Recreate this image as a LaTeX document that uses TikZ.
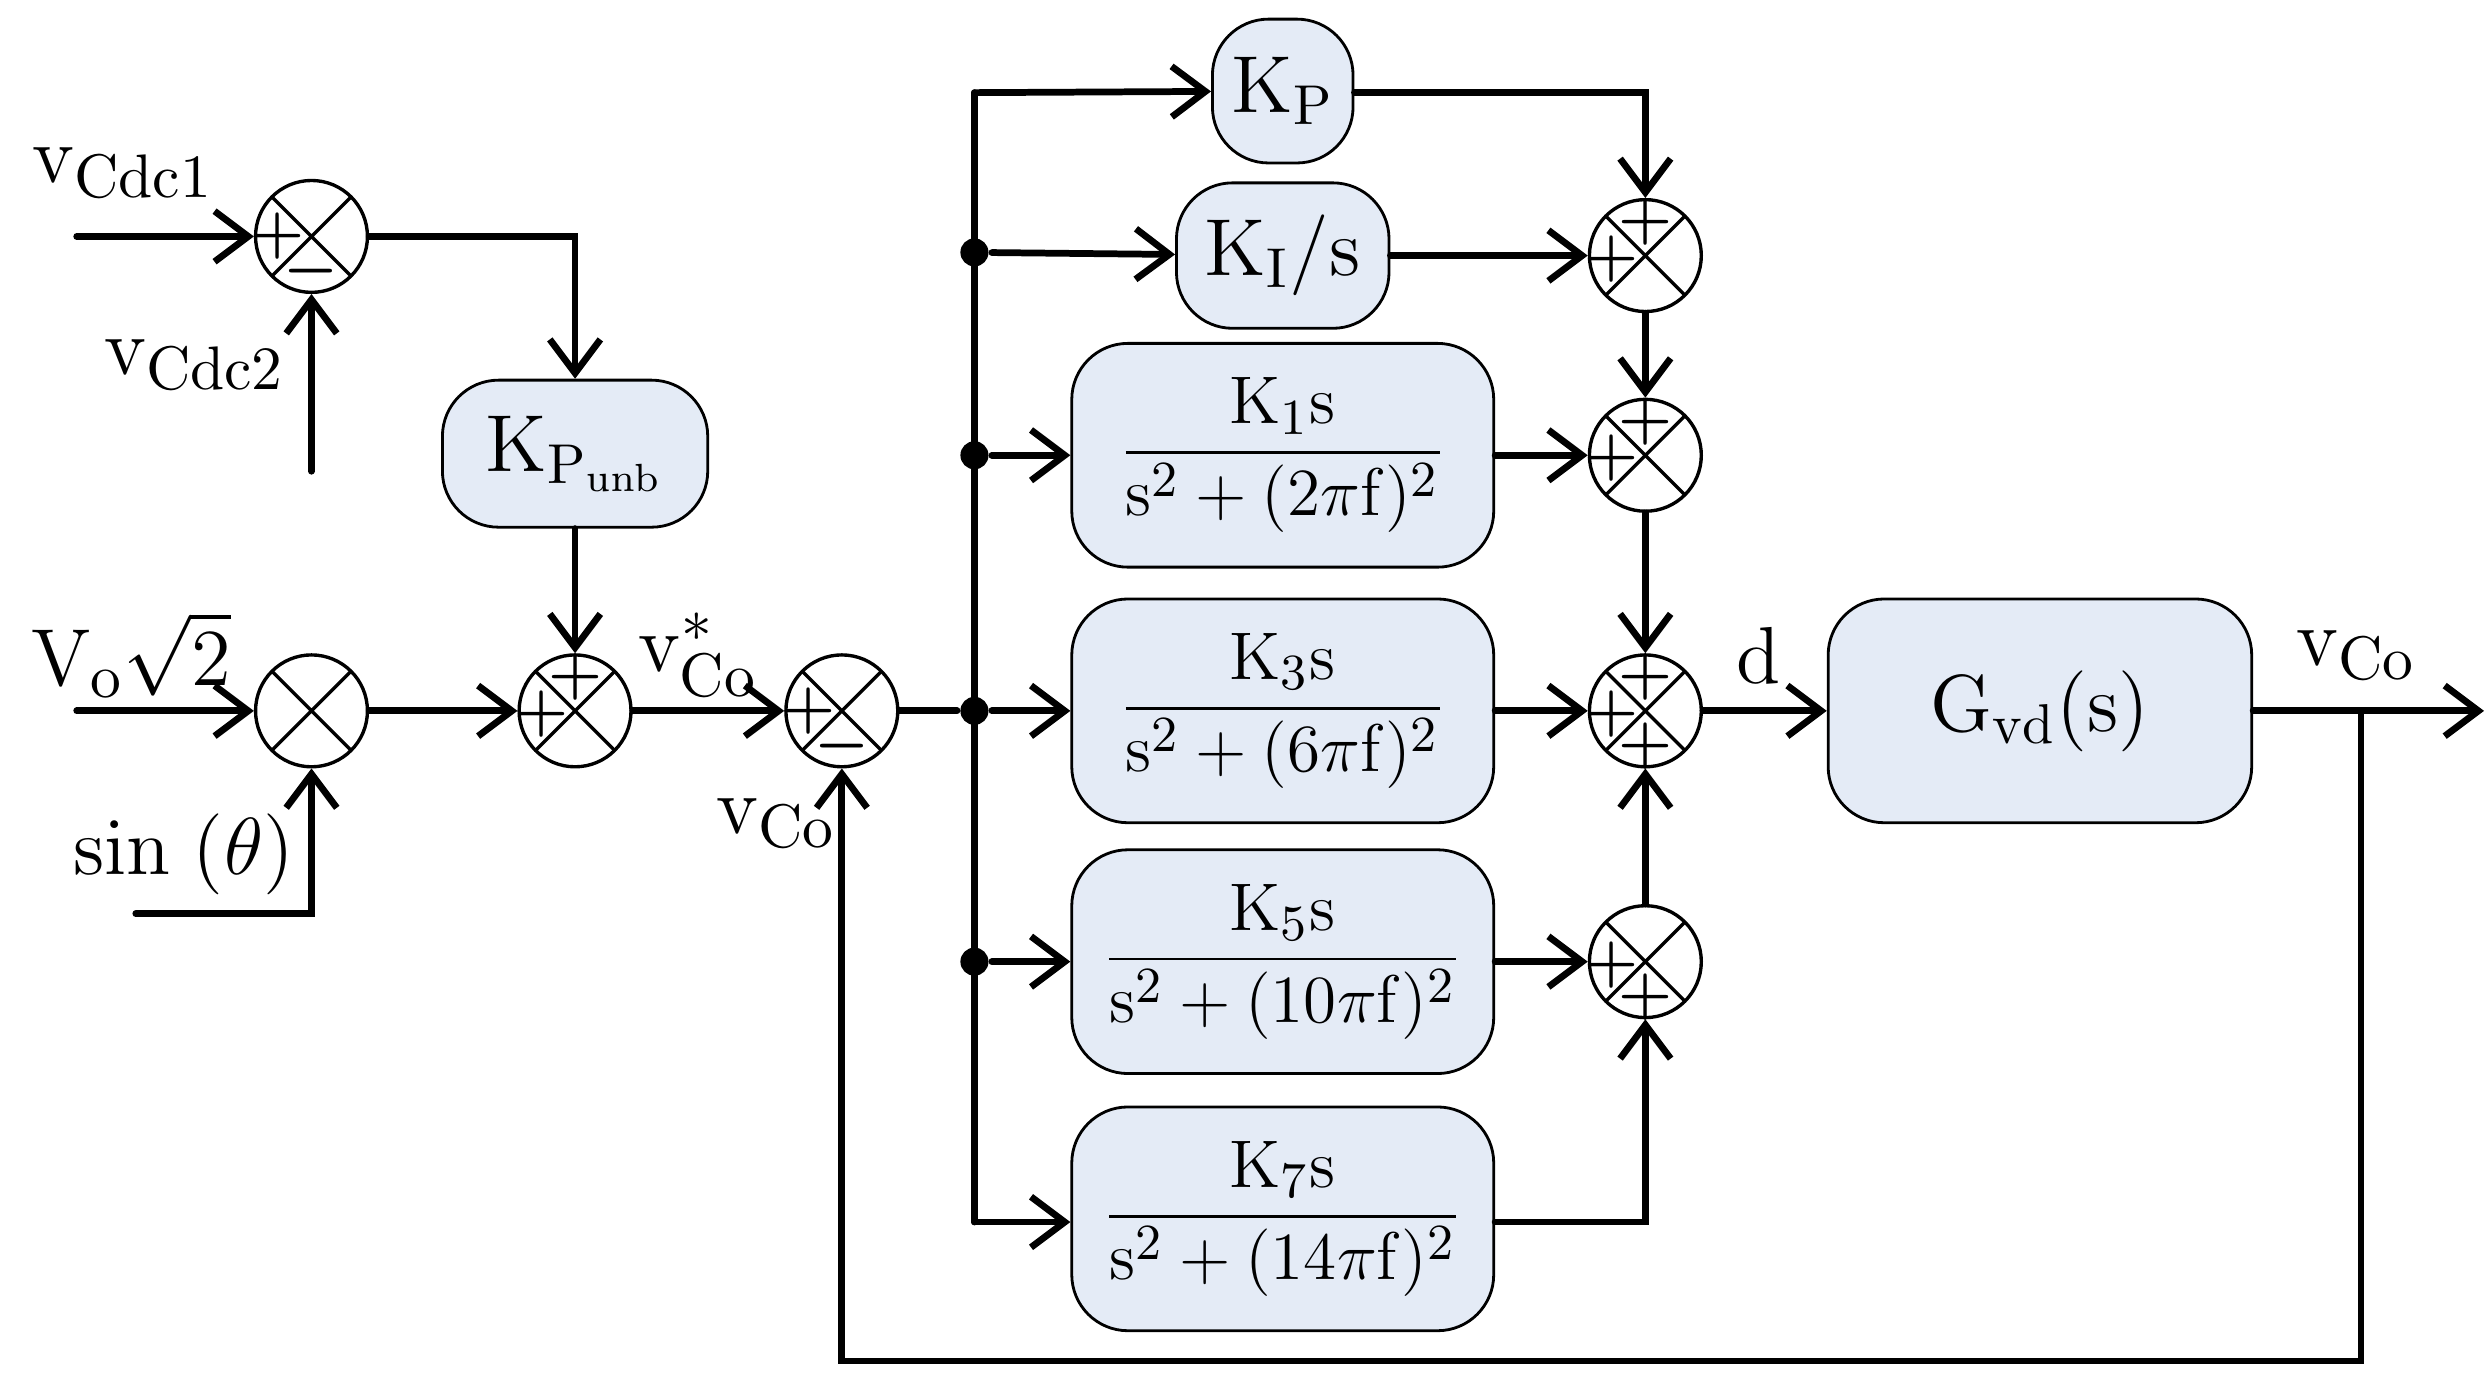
\documentclass[tikz,border=0pt]{standalone}
\usepackage{amsmath}
\usepackage{tikz}
\usetikzlibrary{arrows.meta,calc}
\definecolor{boxfill}{HTML}{E4EBF6}

\begin{document}
\begin{tikzpicture}[x=0.01cm,y=-0.01cm,every path/.style={line cap=round, line width=1.2pt},
  >={Straight Barb[length=6pt,width=9pt]}]

        \tikzset{block/.style = {draw,fill=boxfill,rounded corners=10pt,line width=0.5pt,inner sep=1pt,font=\fontsize{14}{16}\selectfont}}
        \tikzset{frac/.style = {block,minimum width=2.64cm,minimum height=1.4cm,font=\fontsize{12.5}{14}\selectfont}}
        \tikzset{sum/.style = {shape=circle,draw,fill=white,line width=0.6pt,minimum size=0.7cm,inner sep=0pt,
            path picture={\draw[line width=0.6pt] (path picture bounding box.north west) -- (path picture bounding box.south east)
                (path picture bounding box.north east) -- (path picture bounding box.south west);}}}
        \tikzset{sgn/.style = {font=\fontsize{11}{11}\selectfont\bfseries,inner sep=0pt}}
        \tikzset{lbl/.style = {font=\fontsize{15}{18}\selectfont,inner sep=0pt}}
        \tikzset{dot/.style = {circle,fill,inner sep=0pt,minimum size=5pt}}

        \useasboundingbox (0,0) rectangle (1560,867);

        % summing junctions
        \node[sum] (s1) at (195,148) {};
        \node[sum] (s2) at (195,445) {};
        \node[sum] (s3) at (360,445) {};
        \node[sum] (s4) at (527,445) {};
        \node[sum] (r1) at (1030,160) {};
        \node[sum] (r2) at (1030,285) {};
        \node[sum] (r3) at (1030,445) {};
        \node[sum] (r4) at (1030,602) {};

        % blocks
        \node[block,minimum width=0.88cm,minimum height=0.9cm] (kp) at (803,57) {$\mathrm{K_P}$};
        \node[block,minimum width=1.33cm,minimum height=0.91cm] (ki) at (803,160) {$\mathrm{K_I/s}$};
        \node[frac] (k1) at (803,285) {$\dfrac{\mathrm{K_1 s}}{\mathrm{s^2+(2\pi f)^2}}$};
        \node[frac] (k3) at (803,445) {$\dfrac{\mathrm{K_3 s}}{\mathrm{s^2+(6\pi f)^2}}$};
        \node[frac] (k5) at (803,602) {$\dfrac{\mathrm{K_5 s}}{\mathrm{s^2+(10\pi f)^2}}$};
        \node[frac] (k7) at (803,763) {$\dfrac{\mathrm{K_7 s}}{\mathrm{s^2+(14\pi f)^2}}$};
        \node[block,minimum width=1.66cm,minimum height=0.92cm] (kpu) at (360,284) {$\mathrm{K_{P_{unb}}}$};
        \node[block,minimum width=2.65cm,minimum height=1.4cm] (gvd) at (1277,445) {$\mathrm{G_{vd}(s)}$};

        % branch points
        \coordinate (in1) at (48,148);
        \coordinate (in2) at (195,295);
        \coordinate (in3) at (48,445);
        \coordinate (in4) at (85,572);
        \coordinate (bt) at (610,58);
        \coordinate (bb) at (610,765);
        \coordinate (out) at (1555,445);
        \node[dot] (b1) at (610,158) {};
        \node[dot] (b2) at (610,285) {};
        \node[dot] (b3) at (610,445) {};
        \node[dot] (b4) at (610,602) {};
        \coordinate (fb) at (1478,445);

        % signs
        \node[sgn] at ($(s1)+(-21,0)$) {+};
        \node[sgn] at ($(s1)+(0,22)$) {$\boldsymbol{-}$};
        \node[sgn] at ($(s3)+(-21,2)$) {+};
        \node[sgn] at ($(s3)+(0,-21)$) {+};
        \node[sgn] at ($(s4)+(-21,0)$) {+};
        \node[sgn] at ($(s4)+(0,22)$) {$\boldsymbol{-}$};
        \foreach \s in {r1,r2,r3} {
          \node[sgn] at ($(\s)+(-21,2)$) {+};
          \node[sgn] at ($(\s)+(0,-21)$) {+};
        }
        \node[sgn] at ($(r3)+(0,22)$) {+};
        \node[sgn] at ($(r4)+(-21,2)$) {+};
        \node[sgn] at ($(r4)+(0,22)$) {+};

        % labels
        \node[lbl] at (77,108) {$\mathrm{v_{Cdc1}}$};
        \node[lbl] at (122,228) {$\mathrm{v_{Cdc2}}$};
        \node[lbl] at (82,410) {$\mathrm{V_o\sqrt{2}}$};
        \node[lbl] at (115,535) {$\mathrm{sin\;(\theta)}$};
        \node[lbl] at (437,410) {$\mathrm{v^*_{Co}}$};
        \node[lbl] at (486,515) {$\mathrm{v_{Co}}$};
        \node[lbl] at (1101,410) {$\mathrm{d}$};
        \node[lbl] at (1475,410) {$\mathrm{v_{Co}}$};

        % connections
        \draw[->] (in1) -- (s1);
        \draw[->] (in2) -- (s1);
        \draw[->] (s1) -| (kpu);
        \draw[->] (kpu) -- (s3);
        \draw[->] (in3) -- (s2);
        \draw[->] (in4) -| (s2);
        \draw[->] (s2) -- (s3);
        \draw[->] (s3) -- (s4);
        \draw (s4) -- (b3);
        \draw (bt) -- (bb);
        \draw[->] (bt) -- (kp);
        \draw[->] (b1) -- (ki);
        \draw[->] (b2) -- (k1);
        \draw[->] (b3) -- (k3);
        \draw[->] (b4) -- (k5);
        \draw[->] (bb) -- (k7.west |- bb);
        \draw[->] (kp.east |- bt) -| (r1);
        \draw[->] (ki) -- (r1);
        \draw[->] (r1) -- (r2);
        \draw[->] (k1) -- (r2);
        \draw[->] (r2) -- (r3);
        \draw[->] (k3) -- (r3);
        \draw[->] (r4) -- (r3);
        \draw[->] (k5) -- (r4);
        \draw[->] (k7.east |- bb) -| (r4);
        \draw[->] (r3) -- (gvd);
        \draw[->] (gvd) -- (out);
        \draw[->] (fb) -- (1478,852) -| (s4);
\end{tikzpicture}
\end{document}
